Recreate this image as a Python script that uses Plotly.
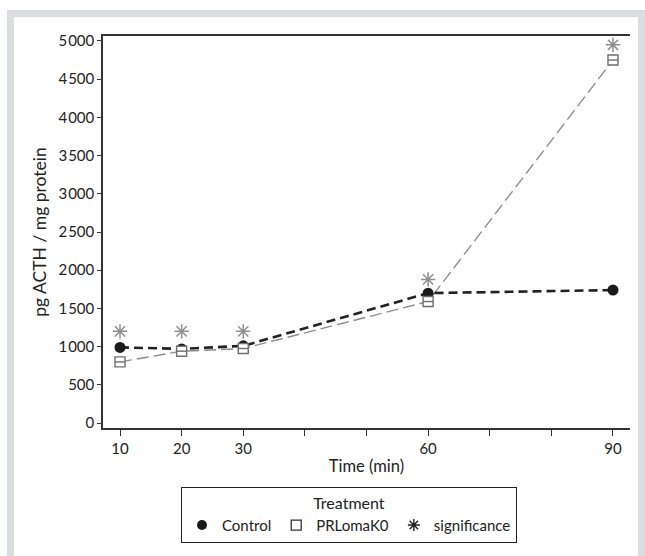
import plotly.graph_objects as go

time = [10, 20, 30, 60, 90]
control = [990, 970, 1010, 1700, 1740]
prlomak0 = [800, 940, 975, 1590, 4750]
significance = [1200, 1200, 1200, 1880, 4950]

x_tickvals = [10, 20, 30, 40, 50, 60, 70, 80, 90]
x_ticktext = ["10", "20", "30", "", "", "60", "", "", "90"]
y_tickvals = [0, 500, 1000, 1500, 2000, 2500, 3000, 3500, 4000, 4500, 5000]
y_ticktext = ["0", "500", "1\u200a000", "1\u200a500", "2\u200a000", "2\u200a500", "3\u200a000",
              "3\u200a500", "4\u200a000", "4\u200a500", "5\u200a000"]

FONT = "Lato, 'Open Sans', sans-serif"
W, H = 645, 556
L, R, T, B = 103, 630, 36, 428


def px(x):
    return (x - L) / (R - L)


def py(y):
    return (B - y) / (B - T)


fig = go.Figure()

# data traces
fig.add_trace(go.Scatter(x=time, y=prlomak0, mode="lines", showlegend=False,
                         line=dict(color="#8c8c8c", width=1.4, dash="12px,5px")))
fig.add_trace(go.Scatter(x=time, y=control, mode="lines+markers", showlegend=False,
                         line=dict(color="#222222", width=2.6, dash="9px,5px"),
                         marker=dict(symbol="circle", size=11, color="#1a1a1a")))
fig.add_trace(go.Scatter(x=time, y=prlomak0, mode="markers", showlegend=False,
                         marker=dict(symbol="square", size=10, color="white",
                                     line=dict(color="#6e6e6e", width=1.4))))
fig.add_trace(go.Scatter(x=time, y=prlomak0, mode="markers", showlegend=False,
                         marker=dict(symbol="line-ew-open", size=7, color="#6e6e6e",
                                     line=dict(color="#6e6e6e", width=1.4))))
fig.add_trace(go.Scatter(x=time, y=significance, mode="markers", showlegend=False,
                         marker=dict(symbol="asterisk-open", size=12, color="#8f8f8f",
                                     line=dict(color="#8f8f8f", width=1.5))))

# legend entries
fig.add_trace(go.Scatter(x=[None], y=[None], mode="markers", name="Control",
                         marker=dict(symbol="circle", size=10, color="#1a1a1a")))
fig.add_trace(go.Scatter(x=[None], y=[None], mode="markers", name="PRLomaK0",
                         marker=dict(symbol="square", size=10, color="white",
                                     line=dict(color="#333333", width=1.3))))
fig.add_trace(go.Scatter(x=[None], y=[None], mode="markers", name="significance",
                         marker=dict(symbol="asterisk-open", size=10, color="#222222",
                                     line=dict(color="#222222", width=1.4))))

shapes = [
    # gray frame
    dict(type="rect", xref="paper", yref="paper", x0=px(7), x1=px(W + 5), y0=py(10), y1=py(H + 5),
         fillcolor="#dcdde0", line=dict(width=0), layer="below"),
    dict(type="rect", xref="paper", yref="paper", x0=px(14), x1=px(638), y0=py(17), y1=py(H + 5),
         fillcolor="white", line=dict(width=0), layer="below"),
]

fig.update_layout(
    width=W, height=H,
    margin=dict(l=L, r=W - R, t=T, b=H - B),
    paper_bgcolor="white", plot_bgcolor="rgba(0,0,0,0)",
    font=dict(family=FONT, size=15, color="#222222"),
    shapes=shapes,
    showlegend=True,
    legend=dict(
        orientation="h", x=px(349), xanchor="center", y=py(487), yanchor="top",
        bordercolor="#222222", borderwidth=1, bgcolor="white",
        title=dict(text="Treatment", side="top center", font=dict(size=16)),
        font=dict(size=15), itemwidth=30, tracegroupgap=0,
    ),
    xaxis=dict(
        range=[7.24, 92.76], tickvals=x_tickvals, ticktext=x_ticktext,
        showgrid=False, zeroline=False, showline=True, linecolor="#333333", linewidth=1.5,
        mirror=True, ticks="outside", ticklen=6, tickwidth=1.2, tickcolor="#333333",
        title=dict(text="Time (min)", standoff=5, font=dict(size=16.5)),
        tickfont=dict(size=15),
    ),
    yaxis=dict(
        range=[-65, 5065], tickvals=y_tickvals, ticktext=y_ticktext,
        showgrid=False, zeroline=False, showline=True, linecolor="#333333", linewidth=1.5,
        ticks="outside", ticklen=4, tickwidth=1, tickcolor="#333333",
        title=dict(text="pg ACTH / mg protein", standoff=7, font=dict(size=17.5)),
        tickfont=dict(size=15),
    ),
)

fig.write_html("out.html")
